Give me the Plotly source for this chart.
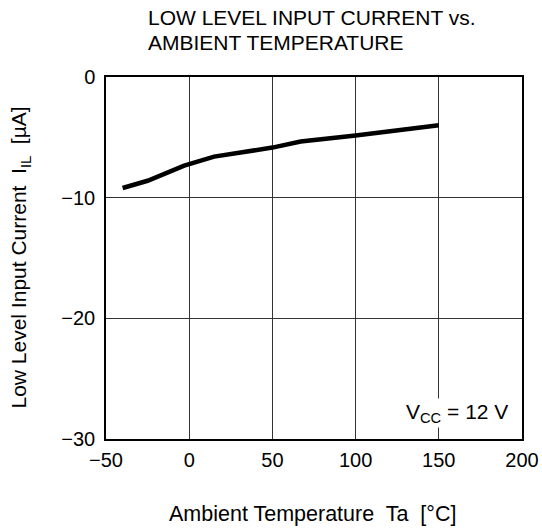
import plotly.graph_objects as go

temp_c = [-40, -25, -3, 15, 50, 67, 100, 150]
current_ua = [-9.2, -8.6, -7.35, -6.6, -5.85, -5.35, -4.85, -4.0]

x_ticks = [-50, 0, 50, 100, 150, 200]
x_tick_labels = ["\u221250", "0", "50", "100", "150", "200"]
y_ticks = [-30, -20, -10, 0]
y_tick_labels = ["\u221230", "\u221220", "\u221210", "0"]

title_lines = ["LOW LEVEL INPUT CURRENT vs.", "AMBIENT TEMPERATURE"]

font = "Liberation Sans, Arial, sans-serif"

fig = go.Figure()
fig.add_trace(go.Scatter(x=temp_c, y=current_ua, mode="lines",
                         line=dict(color="black", width=4.5), showlegend=False))

fig.update_layout(
    width=542, height=529,
    margin=dict(l=106, r=20, t=77, b=90, autoexpand=False),
    plot_bgcolor="white", paper_bgcolor="white",
    font=dict(family=font, size=20, color="black"),
)
fig.update_xaxes(range=[-50, 200], tickvals=x_ticks, ticktext=x_tick_labels,
                 showgrid=True, gridcolor="#333", gridwidth=1,
                 showline=True, linecolor="black", linewidth=1.5, mirror=True,
                 ticks="", zeroline=False, tickfont=dict(size=20),
                 ticklabelstandoff=2)
fig.update_yaxes(range=[-30, 0], tickvals=y_ticks, ticktext=y_tick_labels,
                 showgrid=True, gridcolor="#333", gridwidth=1,
                 showline=True, linecolor="black", linewidth=1.5, mirror=True,
                 ticks="", zeroline=False, tickfont=dict(size=20),
                 ticklabelstandoff=5)

for line, yp in zip(title_lines, [1.1644, 1.0953]):
    fig.add_annotation(xref="paper", yref="paper", x=0.096, y=yp,
                       xanchor="left", yanchor="middle", align="left", showarrow=False,
                       text=line, font=dict(size=21))
fig.add_annotation(xref="paper", yref="paper", x=0.497, y=-0.208,
                   xanchor="center", yanchor="middle", showarrow=False,
                   text="Ambient Temperature  Ta  [\u00b0C]", font=dict(size=21.5))
fig.add_annotation(xref="paper", yref="paper", x=-0.207, y=0.501,
                   textangle=-90, xanchor="center", yanchor="middle", showarrow=False,
                   text="Low Level Input Current  I<sub>IL</sub>  [\u00b5A]", font=dict(size=21))
fig.add_annotation(x=161, y=-27.85, showarrow=False, xanchor="center", yanchor="middle",
                   text="V<sub>CC</sub> = 12 V", bgcolor="white", font=dict(size=21))

fig.write_html("out.html", config={"displayModeBar": False},
               post_script="document.body.style.margin='0';document.body.style.overflow='hidden';")
